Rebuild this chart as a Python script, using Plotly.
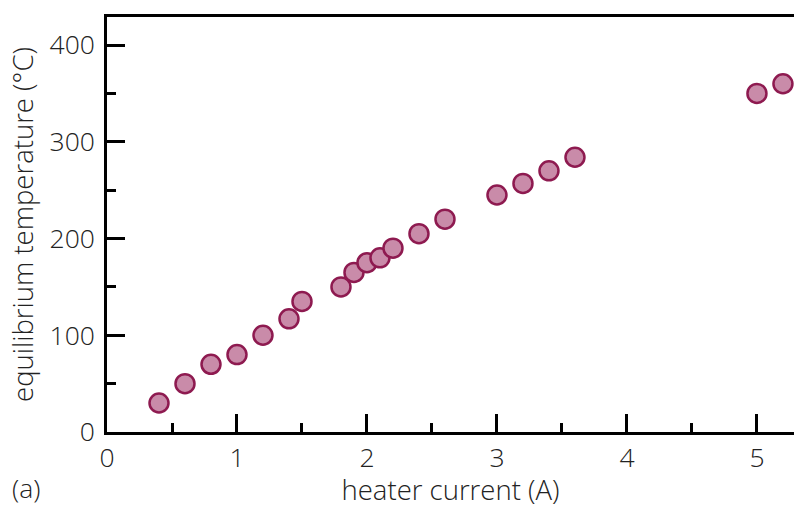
import plotly.graph_objects as go

# Heater current (A) and the equilibrium temperature it settles at (°C)
current_a = [0.4, 0.6, 0.8, 1.0, 1.2, 1.4, 1.5, 1.8, 1.9, 2.0,
             2.1, 2.2, 2.4, 2.6, 3.0, 3.2, 3.4, 3.6, 5.0, 5.2]
temperature_c = [30, 50, 70, 80, 100, 117, 135, 150, 165, 175,
                 180, 190, 205, 220, 245, 257, 270, 284, 350, 360]

x_ticks = [0, 1, 2, 3, 4, 5]
y_ticks = [0, 100, 200, 300, 400]

FONT = dict(family="Open Sans, Liberation Sans, sans-serif", size=26.5,
            color="#222222", weight=300)
TITLE_FONT = dict(FONT, size=27.5)

fig = go.Figure(
    go.Scatter(
        x=current_a,
        y=temperature_c,
        mode="markers",
        marker=dict(size=19, color="#C98BA9",
                    line=dict(color="#8E1A50", width=2.5)),
        showlegend=False,
    )
)

axis_common = dict(
    showline=True, linecolor="black", linewidth=2.5,
    ticks="inside", ticklen=18, tickwidth=2.5, tickcolor="black",
    showgrid=False, zeroline=False, tickfont=FONT,
)

fig.update_xaxes(
    **axis_common,
    range=[0, 5.285],
    tickvals=x_ticks,
    mirror=True,
    ticklabelstandoff=0,
    minor=dict(ticks="inside", ticklen=9, tickwidth=2.5,
               tickcolor="black", dtick=0.5, tick0=0, showgrid=False),
    title=dict(text="heater current (A)", font=TITLE_FONT, standoff=4),
)
fig.update_yaxes(
    **axis_common,
    range=[0, 429],
    tickvals=y_ticks,
    ticklabelstandoff=4,
    minor=dict(ticks="inside", ticklen=9, tickwidth=2.5,
               tickcolor="black", dtick=50, tick0=0, showgrid=False),
    title=dict(text="equilibrium temperature (°C)", font=TITLE_FONT, standoff=8),
)

# panel label below the axis, near the left edge of the figure
fig.add_annotation(
    text="(a)", x=-97 / 687, y=-(488 - 432) / 415,
    xref="paper", yref="paper", showarrow=False, font=FONT,
    xanchor="left", yanchor="middle",
)

fig.update_layout(
    width=794, height=508,
    margin=dict(l=107, r=0, t=17, b=76),
    plot_bgcolor="white", paper_bgcolor="white",
    font=FONT,
)

fig.write_html("out.html")
